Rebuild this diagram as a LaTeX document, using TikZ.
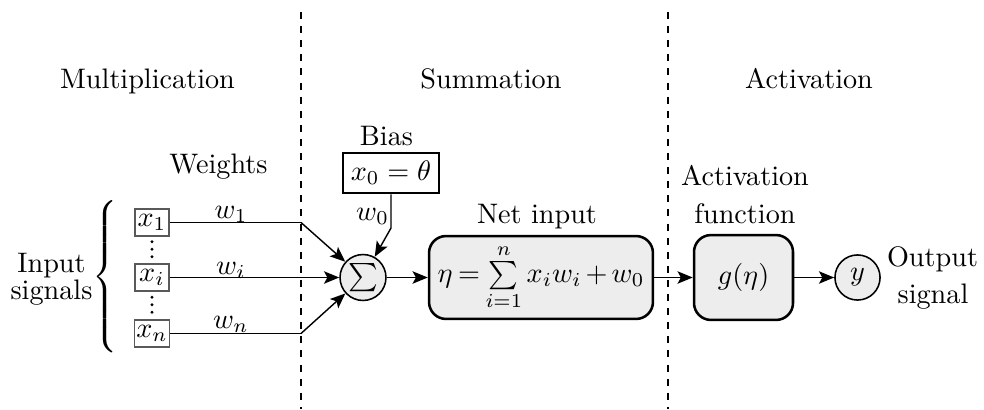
\documentclass[tikz,border=0pt]{standalone}
\usetikzlibrary{arrows.meta}
\begin{document}
\begin{tikzpicture}[x=0.3546pt,y=-0.3546pt,
  sep/.style={line width=1pt, dash pattern=on 2.5pt off 2.5pt},
  wire/.style={line width=0.5pt},
  arr/.style={wire,-{Stealth[length=5.4pt,width=4.4pt,inset=1.2pt]}},
  inbox/.style={draw=black!65, line width=0.55pt, inner sep=0.6pt,
    minimum width=12pt, minimum height=9.5pt},
  block/.style={draw, line width=0.9pt, rounded corners=6pt, fill=black!7},
  junction/.style={circle, draw, line width=0.55pt, fill=black!7,
    inner sep=0pt},
  lbl/.style={anchor=base, inner sep=0pt}]
\useasboundingbox (0,0) rectangle (984,409);

% stage separators
\draw[sep] (301,12) -- (301,409);
\draw[sep] (668,12) -- (668,409);

% stage titles
\node[lbl] (hmul) at (147.5,88) {Multiplication};
\node[lbl] (hsum) at (491,88) {Summation};
\node[lbl] (hact) at (809,88) {Activation};

% inputs
\node[lbl] (inp1) at (51.5,272) {Input};
\node[lbl] (inp2) at (51.5,299) {signals};
\node[anchor=west, inner sep=0pt] (brace) at (92,277)
  {$\left\{\vrule height 31.5pt depth 26.5pt width 0pt\right.$};

\node[inbox] (x1) at (152,222.5) {$x_1$};
\node[inbox] (xi) at (152,277.5) {$x_i$};
\node[inbox] (xn) at (152,333.5) {$x_n$};
\foreach \yy in {241.7,249.2,256.7,297.2,304.7,312.2}
  \fill (152,\yy) circle[radius=0.6pt];

\node[lbl] (wts) at (218.5,173) {Weights};
\node[lbl] (w1) at (231,218) {$w_1$};
\node[lbl] (wi) at (231,274) {$w_i$};
\node[lbl] (wn) at (231,328) {$w_n$};

% summation
\node[junction, minimum size=16.3pt] (sum) at (363,277.5) {$\sum$};
\node[lbl] (biast) at (386.5,145) {Bias};
\node[draw, line width=0.95pt, minimum width=34pt, minimum height=14.2pt,
  inner sep=1pt] (bias) at (391,173) {$x_0=\theta$};
\node[lbl] (w0) at (372.5,220) {$w_0$};
\coordinate (kb) at (391,228);
\coordinate (k1) at (301,222.5);
\coordinate (kn) at (301,333.5);

\draw[wire] (x1) -- (k1);
\draw[arr] (k1) -- (sum);
\draw[arr] (xi) -- (sum);
\draw[wire] (xn) -- (kn);
\draw[arr] (kn) -- (sum);
\draw[arr] (bias) -- (kb) -- (sum);

% net input
\node[lbl] (nett) at (537,223) {Net input};
\node[block, minimum width=79.4pt, minimum height=29.4pt, inner sep=1pt]
  (net) at (541,277.5)
  {$\thickmuskip=3.5mu\medmuskip=2.5mu
    \eta=\sum\limits_{i=1}^{n} x_i w_i + w_0$};
\draw[arr] (sum) -- (net);

% activation
\node[lbl] (act1) at (745,185) {Activation};
\node[lbl] (act2) at (745,223) {function};
\node[block, minimum width=35.1pt, minimum height=30.1pt] (g)
  at (743.5,277.5) {$g(\eta)$};
\draw[arr] (net) -- (g);

% output
\node[junction, minimum size=16pt] (out) at (857.5,277.5) {$y$};
\draw[arr] (g) -- (out);
\node[lbl] (out1) at (932.5,266) {Output};
\node[lbl] (out2) at (933,303) {signal};
\end{tikzpicture}
\end{document}
